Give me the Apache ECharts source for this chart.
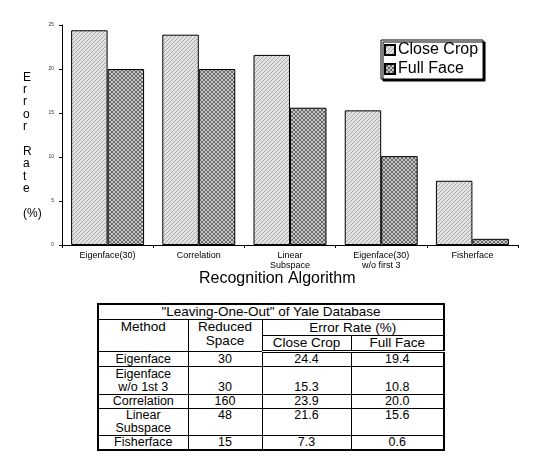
<!DOCTYPE html>
<html>
<head>
<meta charset="utf-8">
<script src="https://cdn.jsdelivr.net/npm/echarts@6/dist/echarts.min.js"></script>
<style>
body { margin: 0; background: #fff; }
#chart { position: absolute; left: 0; top: 0; width: 538px; height: 295px; }
#tbl { position: absolute; left: 97px; top: 303px; border-collapse: collapse; table-layout: fixed;
  font-family: "Liberation Sans", Arial, sans-serif; color: #000; border: 2px solid #000; }
#tbl td { padding: 0; text-align: center; border: 1px solid #000; font-size: 12.5px; line-height: 13px; }
#tbl td.h { font-size: 13.5px; line-height: 14px; }
#tbl tr.dbl td { border-bottom: 3px double #000; }
</style>
</head>
<body>
<div id="chart"></div>
<table id="tbl"></table>
<script>
var categories = ['Eigenface(30)', 'Correlation', 'Linear\nSubspace', 'Eigenface(30)\nw/o first 3', 'Fisherface'];
var closeCrop = [24.4, 23.9, 21.6, 15.3, 7.3];
var fullFace = [20.0, 20.0, 15.6, 10.1, 0.7];
var yTicks = [0, 5, 10, 15, 20, 25];

var tableTitle = '"Leaving-One-Out" of Yale Database';
var tableMethods = ['Eigenface', 'Eigenface<br>w/o 1st 3', 'Correlation', 'Linear<br>Subspace', 'Fisherface'];
var tableSpace = ['30', '30', '160', '48', '15'];
var tableClose = ['24.4', '15.3', '23.9', '21.6', '7.3'];
var tableFull = ['19.4', '10.8', '20.0', '15.6', '0.6'];
var tableAlign = ['middle', 'bottom', 'middle', 'top', 'middle'];
var rowHeights = [15, 28, 14, 27, 14];

function makePattern(bg, fg, cross) {
	var c = document.createElement('canvas');
	c.width = 4; c.height = 4;
	var g = c.getContext('2d');
	g.fillStyle = bg;
	g.fillRect(0, 0, 4, 4);
	g.fillStyle = fg;
	for (var i = 0; i < 4; i++) {
		g.fillRect(i, 3 - i, 1, 1);
		if (cross) g.fillRect(i, i, 1, 1);
	}
	return { image: c, repeat: 'repeat' };
}

var myChart = echarts.init(document.getElementById('chart'));
myChart.setOption({
	animation: false,
	textStyle: { fontFamily: 'Liberation Sans, Arial, sans-serif' },
	grid: { left: 62, right: 20, top: 25, bottom: 50 },
	legend: {
		orient: 'vertical',
		left: 381,
		top: 40,
		padding: [2, 5, 2, 3],
		itemGap: 3,
		itemWidth: 10,
		itemHeight: 10,
		icon: 'rect',
		backgroundColor: '#fff',
		borderColor: '#000',
		borderWidth: 1,
		borderRadius: 0,
		shadowColor: '#000',
		shadowBlur: 0,
		shadowOffsetX: 2,
		shadowOffsetY: 2,
		textStyle: { fontSize: 16, color: '#000', padding: [0, 0, 0, -2] },
		data: ['Close Crop', 'Full Face']
	},
	graphic: [
		{
			type: 'text', left: 23, top: 71,
			style: {
				text: 'E\nr\nr\no\nr\n\nR\na\nt\ne\n\n(%)',
				fontSize: 12, lineHeight: 12.4, align: 'center', fill: '#000',
				fontFamily: 'Liberation Sans, Arial, sans-serif'
			}
		},
		{
			type: 'text', left: 199, top: 271,
			style: {
				text: 'Recognition Algorithm', fontSize: 16, fill: '#000',
				fontFamily: 'Liberation Sans, Arial, sans-serif'
			}
		}
	],
	xAxis: {
		type: 'category',
		data: categories,
		axisLine: { lineStyle: { color: '#000', width: 1 } },
		axisTick: { show: true, length: 3, lineStyle: { color: '#000' } },
		axisLabel: { fontSize: 9, lineHeight: 10, color: '#000', margin: 6 }
	},
	yAxis: {
		type: 'value',
		min: 0,
		max: 25,
		interval: 5,
		splitLine: { show: false },
		axisLine: { show: true, lineStyle: { color: '#000', width: 1 } },
		axisTick: { show: true, length: 3, lineStyle: { color: '#000' } },
		axisLabel: { fontSize: 5, color: '#333', margin: 8,
			customValues: yTicks }
	},
	series: [
		{
			name: 'Close Crop',
			type: 'bar',
			barGap: '0%',
			barCategoryGap: '20%',
			itemStyle: { color: makePattern('#e2e2e2', '#a8a8a8', false), borderColor: '#000', borderWidth: 1 },
			data: closeCrop
		},
		{
			name: 'Full Face',
			type: 'bar',
			itemStyle: { color: makePattern('#c4c4c4', '#6a6a6a', true), borderColor: '#000', borderWidth: 1 },
			data: fullFace
		}
	]
});

// table
var html = '<colgroup><col style="width:90px"><col style="width:74px"><col style="width:89px"><col style="width:93px"></colgroup>';
html += '<tr style="height:14px"><td class="h" colspan="4">' + tableTitle + '</td></tr>';
html += '<tr style="height:16px"><td class="h" rowspan="2" style="vertical-align:top">Method</td>'
	+ '<td class="h" rowspan="2" style="vertical-align:top">Reduced<br>Space</td>'
	+ '<td class="h" colspan="2">Error Rate (%)</td></tr>';
html += '<tr class="dbl" style="height:13px"><td class="h">Close Crop</td><td class="h">Full Face</td></tr>';
for (var i = 0; i < tableMethods.length; i++) {
	var va = 'vertical-align:' + tableAlign[i];
	html += '<tr style="height:' + rowHeights[i] + 'px">'
		+ '<td style="vertical-align:middle">' + tableMethods[i] + '</td>'
		+ '<td style="' + va + '">' + tableSpace[i] + '</td>'
		+ '<td style="' + va + '">' + tableClose[i] + '</td>'
		+ '<td style="' + va + '">' + tableFull[i] + '</td></tr>';
}
document.getElementById('tbl').innerHTML = html;
</script>
</body>
</html>
